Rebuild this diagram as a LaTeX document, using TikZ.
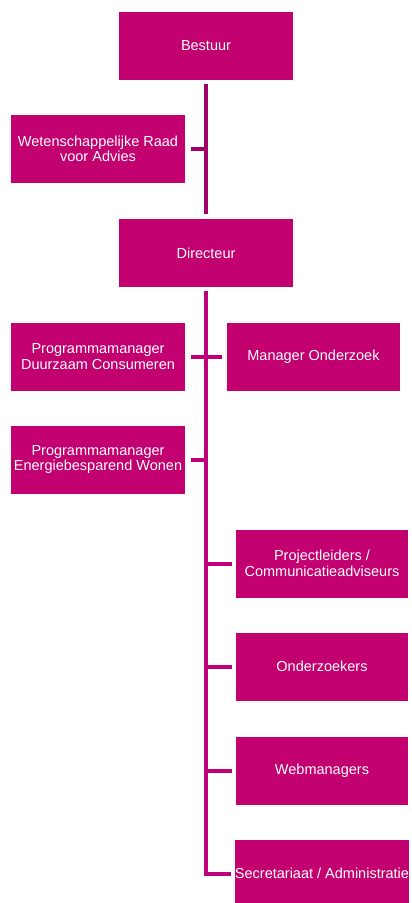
\documentclass[tikz,border=0pt]{standalone}
\usepackage{fontspec}
\setmainfont{Liberation Sans}
\usepackage{xcolor}
\definecolor{box}{HTML}{C2006F}
\definecolor{lijn}{HTML}{C0007A}
\definecolor{lijndonker}{HTML}{A0006A}

\begin{document}
\begin{tikzpicture}[x=1pt, y=-1pt,
  functie/.style={fill=box, text=white, minimum width=174pt, minimum height=68pt,
    align=center, inner sep=0pt, font=\fontsize{14.5}{15.5}\selectfont},
  tak/.style={draw=lijn, line width=4pt}]
\useasboundingbox (0,0) rectangle (412,903);

\node[functie] (bestuur) at (206,46) {Bestuur};
\node[functie] (raad) at (98,149) {Wetenschappelijke Raad\\voor Advies};
\node[functie] (directeur) at (206,253) {Directeur};

\node[functie] (pmdc) at (98,356.5) {Programmamanager\\Duurzaam Consumeren};
\node[functie, minimum width=173pt] (onderzoek) at (313.5,356.5) {Manager Onderzoek};
\node[functie] (pmew) at (98,459.5) {Programmamanager\\Energiebesparend Wonen};

\node[functie, minimum width=172pt] (projectl) at (322,563.5) {Projectleiders /\\Communicatieadviseurs};
\node[functie, minimum width=172pt] (onderzoekers) at (322,666.5) {Onderzoekers};
\node[functie, minimum width=172pt] (web) at (322,770.5) {Webmanagers};
\node[functie, minimum width=172pt] (secr) at (322,873.5) {Secretariaat / Administratie};

% bovenste lijn
\draw[tak, draw=lijndonker, shorten <=4pt, shorten >=5pt] (bestuur.south) -- (directeur.north);
\draw[tak, draw=lijndonker, shorten <=6pt] (raad.east) -- ++(23,0);

% lijn onder directeur
\draw[tak, shorten <=4pt, shorten >=4pt] (directeur.south) |- (secr.west);
\draw[tak, shorten <=6pt, shorten >=5pt] (pmdc.east) -- (onderzoek.west);
\draw[tak, shorten <=6pt] (pmew.east) -- (pmew.east -| directeur.south);
\draw[tak, shorten <=4pt] (projectl.west) -- (projectl.west -| directeur.south);
\draw[tak, shorten <=4pt] (onderzoekers.west) -- (onderzoekers.west -| directeur.south);
\draw[tak, shorten <=4pt] (web.west) -- (web.west -| directeur.south);
\end{tikzpicture}
\end{document}
